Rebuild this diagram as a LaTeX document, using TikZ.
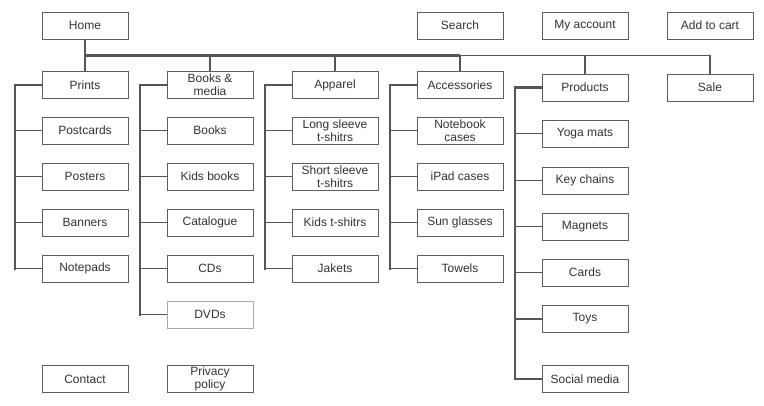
\documentclass[tikz,border=0pt]{standalone}
\usepackage{fontspec}
\setmainfont{Liberation Sans}
\definecolor{ln}{HTML}{555555}
\definecolor{bx}{HTML}{5E5E5E}
\definecolor{tx}{HTML}{333333}
\definecolor{lt}{HTML}{A8A8A8}
\begin{document}
\begin{tikzpicture}[x=1pt,y=-1pt,
  pg/.style={draw=bx,line width=0.9pt,fill=white,minimum width=86pt,minimum height=27pt,inner sep=0pt,align=center,text=tx,font=\fontsize{12}{13}\selectfont},
  bus/.style={draw=ln,line width=2.2pt},
  br/.style={draw=ln,line width=1.6pt}]
\useasboundingbox (0,0) rectangle (764,406);
% top row
\node[pg] (home) at (85,25.5) {Home};
\node[pg] (search) at (460,25.5) {Search};
\node[pg] (acct) at (585,25.5) {My account};
\node[pg] (cart) at (710,25.5) {Add to cart};
% level 1
\node[pg] (prints) at (85,85) {Prints};
\node[pg] (books) at (210,85) {Books \&\\media};
\node[pg] (apparel) at (335,85) {Apparel};
\node[pg] (acc) at (460,85) {Accessories};
\node[pg] (prod) at (585,87.5) {Products};
\node[pg] (sale) at (710,87.5) {Sale};
% prints
\node[pg] (postcards) at (85,130.5) {Postcards};
\node[pg] (posters) at (85,176.5) {Posters};
\node[pg] (banners) at (85,222.5) {Banners};
\node[pg] (notepads) at (85,268.5) {Notepads};
% books
\node[pg] (bk) at (210,130.5) {Books};
\node[pg] (kidsbk) at (210,176.5) {Kids books};
\node[pg] (cat) at (210,222.5) {Catalogue};
\node[pg] (cds) at (210,268.5) {CDs};
\node[pg,draw=lt] (dvds) at (210,314.5) {DVDs};
% apparel
\node[pg] (long) at (335,130.5) {Long sleeve\\t-shitrs};
\node[pg] (short) at (335,176.5) {Short sleeve\\t-shitrs};
\node[pg] (kidst) at (335,222.5) {Kids t-shitrs};
\node[pg] (jakets) at (335,268.5) {Jakets};
% accessories
\node[pg] (note) at (460,130.5) {Notebook\\cases};
\node[pg] (ipad) at (460,176.5) {iPad cases};
\node[pg] (sun) at (460,222.5) {Sun glasses};
\node[pg] (towels) at (460,268.5) {Towels};
% products
\node[pg] (yoga) at (585,133.5) {Yoga mats};
\node[pg] (keys) at (585,180.5) {Key chains};
\node[pg] (mag) at (585,226.5) {Magnets};
\node[pg] (cards) at (585,272.5) {Cards};
\node[pg] (toys) at (585,319) {Toys};
\node[pg] (social) at (585,379) {Social media};
% footer
\node[pg] (contact) at (85,379) {Contact};
\node[pg] (privacy) at (210,379) {Privacy\\policy};
% main bus
\coordinate (hb) at (85,55.5);
\coordinate (hm) at (460,55.5);
\coordinate (he) at (710,55.5);
\draw[br] (hb) -- (prints.north);
\draw[br] (hm) -- (he);
\draw[br] (books.north) -- (books.north |- hb);
\draw[br] (apparel.north) -- (apparel.north |- hb);
\draw[br] (acc.north) -- (acc.north |- hb);
\draw[br] (prod.north) -- (prod.north |- hb);
\draw[br] (sale.north) -- (sale.north |- hb);
\draw[bus] (home.south) -- (hb) -- (hm);
% column spines
\coordinate (s1) at (15,0);
\coordinate (s2) at (140,0);
\coordinate (s3) at (265,0);
\coordinate (s4) at (390,0);
\coordinate (s5) at (515,0);
\foreach \c in {postcards,posters,banners,notepads}{\draw[br] (\c.west) -- (s1 |- \c.west);}
\draw[bus,line cap=rect] (prints.west) -- (s1 |- prints.west) -- (s1 |- notepads.west);
\foreach \c in {bk,kidsbk,cat,cds,dvds}{\draw[br] (\c.west) -- (s2 |- \c.west);}
\draw[bus,line cap=rect] (books.west) -- (s2 |- books.west) -- (s2 |- dvds.west);
\foreach \c in {long,short,kidst,jakets}{\draw[br] (\c.west) -- (s3 |- \c.west);}
\draw[bus,line cap=rect] (apparel.west) -- (s3 |- apparel.west) -- (s3 |- jakets.west);
\foreach \c in {note,ipad,sun,towels}{\draw[br] (\c.west) -- (s4 |- \c.west);}
\draw[bus,line cap=rect] (acc.west) -- (s4 |- acc.west) -- (s4 |- towels.west);
\foreach \c in {yoga,keys,mag,cards,toys,social}{\draw[br] (\c.west) -- (s5 |- \c.west);}
\draw[bus,line cap=rect] (prod.west) -- (s5 |- prod.west) -- (s5 |- social.west);
\end{tikzpicture}
\end{document}
